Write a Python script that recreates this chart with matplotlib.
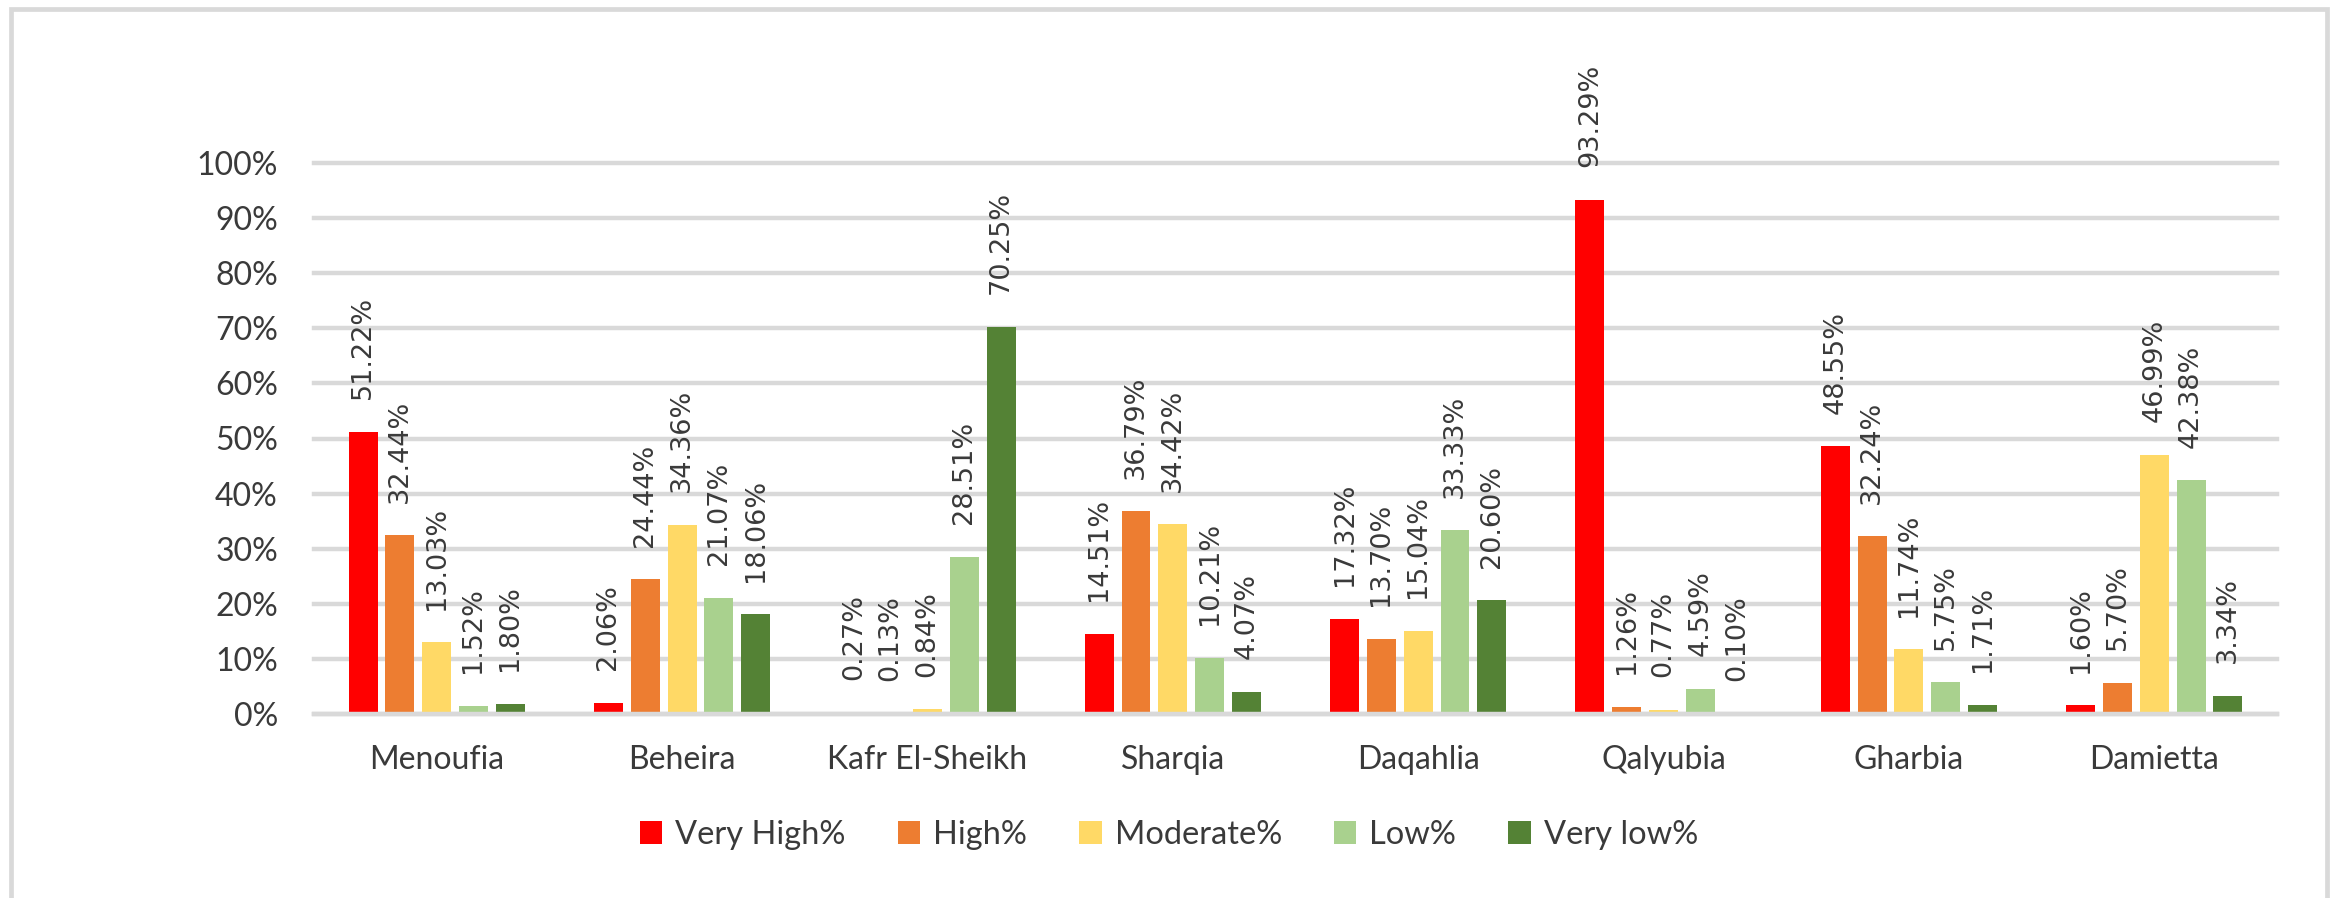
import matplotlib.pyplot as plt
import matplotlib.patches as patches
import numpy as np

regions = ["Menoufia", "Beheira", "Kafr El-Sheikh", "Sharqia",
           "Daqahlia", "Qalyubia", "Gharbia", "Damietta"]

series_names = ["Very High%", "High%", "Moderate%", "Low%", "Very low%"]

very_high = [51.22, 2.06, 0.27, 14.51, 17.32, 93.29, 48.55, 1.60]
high = [32.44, 24.44, 0.13, 36.79, 13.70, 1.26, 32.24, 5.70]
moderate = [13.03, 34.36, 0.84, 34.42, 15.04, 0.77, 11.74, 46.99]
low = [1.52, 21.07, 28.51, 10.21, 33.33, 4.59, 5.75, 42.38]
very_low = [1.80, 18.06, 70.25, 4.07, 20.60, 0.10, 1.71, 3.34]

colors = ["#FF0000", "#ED7D31", "#FFD966", "#A9D18E", "#548235"]

yticks = [0, 10, 20, 30, 40, 50, 60, 70, 80, 90, 100]
ytick_labels = ["0%", "10%", "20%", "30%", "40%", "50%",
                "60%", "70%", "80%", "90%", "100%"]

TEXT = "#3a3a3a"
GRID = "#d9d9d9"

fig = plt.figure(figsize=(23.38, 8.98), dpi=100)
ax = fig.add_axes([314 / 2338, 1 - 714 / 898, (2277 - 314) / 2338, (714 - 163) / 898])

x = np.arange(len(regions))
pitch = 0.15
width = 0.118

all_series = [very_high, high, moderate, low, very_low]
for j, values in enumerate(all_series):
    pos = x + (j - 2) * pitch
    ax.bar(pos, values, width=width, color=colors[j], label=series_names[j], zorder=3)
    for px, v in zip(pos, values):
        ax.annotate(f"{v:.2f}%", (px, v), xytext=(0, 23.5), textcoords="offset points",
                    rotation=90, ha="center", va="bottom",
                    fontsize=19.5, family="DejaVu Sans", color=TEXT,
                    annotation_clip=False)

ax.set_xlim(-0.5, len(regions) - 0.5)
ax.set_ylim(0, 100)
ax.set_yticks(yticks)
ax.set_yticklabels(ytick_labels, family="Lato", fontsize=23, color=TEXT)
ax.set_xticks(x)
ax.set_xticklabels(regions, family="Lato", fontsize=23, color=TEXT)
ax.tick_params(axis="both", length=0)
ax.tick_params(axis="y", pad=26)
ax.tick_params(axis="x", pad=22)

ax.yaxis.grid(True, color=GRID, linewidth=3.2, zorder=0)
for gl in ax.get_ygridlines():
    gl.set_clip_on(False)
ax.set_axisbelow(True)

for s in ["top", "right", "left"]:
    ax.spines[s].set_visible(False)
ax.spines["bottom"].set_color(GRID)
ax.spines["bottom"].set_linewidth(3.2)
ax.spines["bottom"].set_zorder(4)

leg = fig.legend(loc="center", bbox_to_anchor=(0.5, 1 - 835 / 898), ncol=5,
                 frameon=False, prop={"family": "Lato", "size": 23.5},
                 handlelength=0.68, handleheight=0.68, handletextpad=0.4,
                 columnspacing=1.6)
for t in leg.get_texts():
    t.set_color(TEXT)

# chart area border (bottom edge falls outside the picture)
border = patches.Rectangle((10.5 / 2338, -0.05), (2326.5 - 10.5) / 2338, 1.05 - 8.5 / 898,
                           transform=fig.transFigure, fill=False,
                           edgecolor=GRID, linewidth=3.4, clip_on=False)
fig.patches.append(border)

fig.savefig("out.png", dpi=100)
